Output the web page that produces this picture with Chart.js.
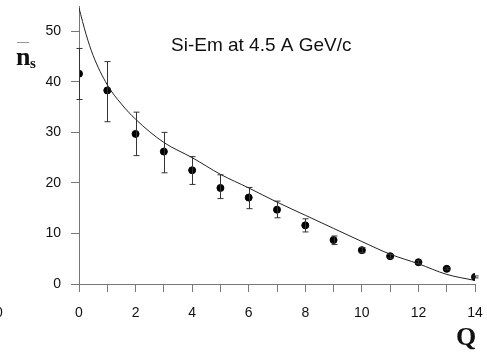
<!DOCTYPE html>
<html>
<head>
<meta charset="utf-8">
<script src="https://cdn.jsdelivr.net/npm/chart.js@4.4.0/dist/chart.umd.min.js"></script>
<style>
  body { margin: 0; background: #fff; }
  #wrap { width: 487px; height: 360px; }
</style>
</head>
<body>
<div id="wrap"><canvas id="nsChart" width="487" height="360"></canvas></div>
<script>
// measured points (Q, mean n_s) with error bars
const q = [0, 1, 2, 3, 4, 5, 6, 7, 8, 9, 10, 11, 12, 13, 14];
const ns = [41.6, 38.3, 29.7, 26.2, 22.5, 19.0, 17.1, 14.7, 11.6, 8.7, 6.7, 5.5, 4.3, 3.0, 1.4];
const errHi = [46.6, 44.0, 34.0, 30.0, 25.2, 21.6, 19.1, 16.4, 12.9, 9.5, 7.2, 5.9, 4.6, 3.2, 1.6];
const errLo = [36.5, 32.1, 25.4, 22.0, 19.7, 16.9, 14.9, 13.1, 10.3, 7.8, 6.2, 5.1, 4.0, 2.8, 1.2];

// model curve
const curveQ = [0, 0.25, 0.5, 1, 1.5, 2, 3, 4, 5, 6, 7, 8, 9, 10, 11, 12, 13, 14];
const curveN = [54.6, 49.4, 45.2, 39.4, 35.6, 32.6, 28.0, 25.0, 21.7, 19.0, 16.2, 13.6, 11.0, 8.4, 5.9, 4.0, 1.9, 0.7];

const yTicks = [0, 10, 20, 30, 40, 50];

// error bars drawn through the scales
const errorBars = {
  id: 'errorBars',
  afterDatasetsDraw(chart) {
    const ctx = chart.ctx;
    const xs = chart.scales.x, ys = chart.scales.y;
    ctx.save();
    ctx.strokeStyle = '#333';
    ctx.lineWidth = 1;
    for (let i = 0; i < q.length; i++) {
      const px = Math.round(xs.getPixelForValue(q[i])) + 0.5;
      const top = ys.getPixelForValue(errHi[i]);
      const bot = ys.getPixelForValue(errLo[i]);
      ctx.beginPath();
      ctx.moveTo(px, top); ctx.lineTo(px, bot);
      ctx.moveTo(px - 3, top); ctx.lineTo(px + 3, top);
      ctx.moveTo(px - 3, bot); ctx.lineTo(px + 3, bot);
      ctx.stroke();
    }
    ctx.restore();
  }
};

// labels: title, axis names
const labels = {
  id: 'labels',
  afterDraw(chart) {
    const ctx = chart.ctx;
    ctx.save();
    ctx.fillStyle = '#111';
    ctx.textBaseline = 'alphabetic';
    ctx.font = '19px "Liberation Sans", Arial, sans-serif';
    ctx.fillText('Si-Em at 4.5 A GeV/c', 171, 51);
    // y axis name: n-bar with subscript s
    ctx.font = 'bold 26px "Liberation Serif", "Times New Roman", serif';
    ctx.fillText('n', 16, 65);
    ctx.font = 'bold 15px "Liberation Serif", "Times New Roman", serif';
    ctx.fillText('s', 30, 68);
    ctx.strokeStyle = '#999';
    ctx.lineWidth = 1;
    ctx.beginPath();
    ctx.moveTo(17, 42.5); ctx.lineTo(29, 42.5);
    ctx.stroke();
    // x axis name
    ctx.font = 'bold 26px "Liberation Serif", "Times New Roman", serif';
    ctx.fillText('Q', 456, 345);
    // cut-off label from neighbouring panel
    ctx.font = '14px "Liberation Sans", Arial, sans-serif';
    ctx.fillText('0', -5, 317);
    ctx.restore();
  }
};

const data = {
  datasets: [{
    type: 'line',
    label: 'model',
    data: curveQ.map((v, i) => ({x: v, y: curveN[i]})),
    borderColor: '#222',
    borderWidth: 1,
    pointRadius: 0,
    fill: false,
    cubicInterpolationMode: 'monotone'
  }, {
    type: 'scatter',
    label: 'Si-Em',
    data: q.map((v, i) => ({x: v, y: ns[i]})),
    backgroundColor: '#000',
    borderColor: '#000',
    pointRadius: 3.5
  }]
};

const config = {
  type: 'scatter',
  data: data,
  options: {
    responsive: false,
    animation: false,
    layout: { padding: { top: 6, right: 12, left: 0, bottom: 0 } },
    plugins: { legend: { display: false }, tooltip: { enabled: false } },
    scales: {
      x: {
        type: 'linear',
        min: 0,
        max: 14,
        afterFit: (s) => { s.height = 76; s.paddingLeft = 0; s.paddingRight = 0; },
        border: { display: true, color: '#777', width: 1 },
        grid: { drawOnChartArea: false, drawTicks: true, tickLength: 8, color: '#777' },
        ticks: {
          stepSize: 1,
          autoSkip: false,
          maxRotation: 0,
          padding: 13,
          color: '#111',
          font: { family: '"Liberation Sans", Arial, sans-serif', size: 14 },
          callback: (v) => (v % 2 === 0 ? v : '')
        }
      },
      y: {
        min: 0,
        max: 55,
        afterFit: (s) => { s.width = 79; s.paddingTop = 0; s.paddingBottom = 0; },
        afterBuildTicks: (s) => { s.ticks = yTicks.map(v => ({value: v})); },
        border: { display: true, color: '#777', width: 1 },
        grid: { drawOnChartArea: false, drawTicks: true, tickLength: 8, color: '#777' },
        ticks: {
          padding: 10,
          color: '#111',
          font: { family: '"Liberation Sans", Arial, sans-serif', size: 14 }
        }
      }
    }
  },
  plugins: [errorBars, labels]
};

const nsChart = new Chart(document.getElementById('nsChart'), config);
</script>
</body>
</html>
